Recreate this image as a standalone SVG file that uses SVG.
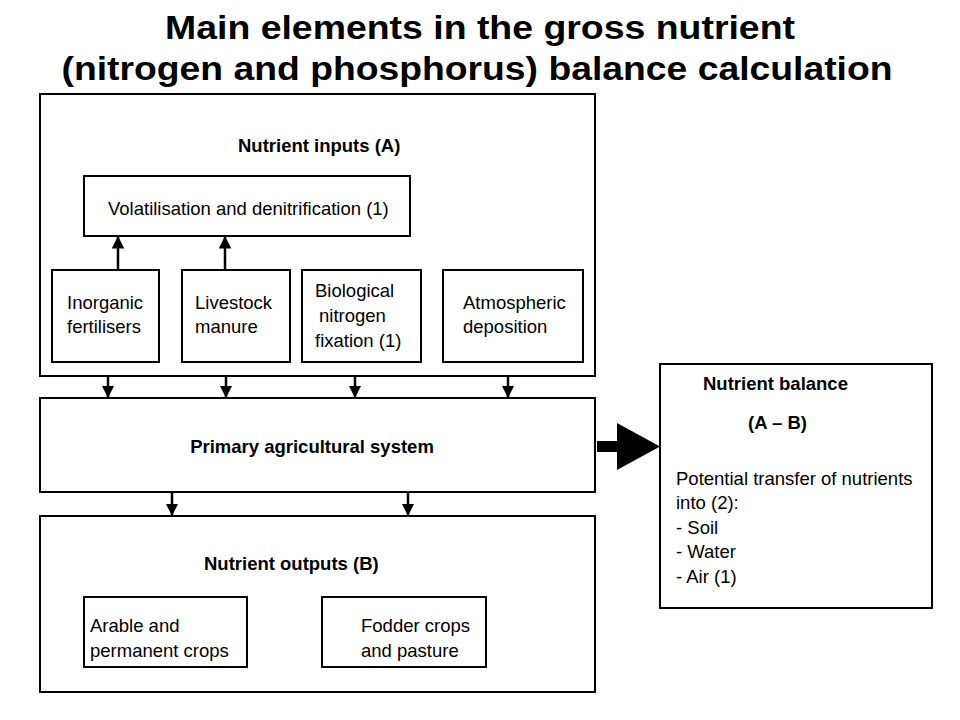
<svg xmlns="http://www.w3.org/2000/svg" width="960" height="720" viewBox="0 0 960 720">
<style>
.box{fill:#fff;stroke:#000;stroke-width:2}
.t{font-family:"Liberation Sans",Arial,sans-serif;font-size:18.5px;fill:#000}
.b{font-weight:bold}
.title{font-family:"Liberation Sans",Arial,sans-serif;font-weight:bold;font-size:33px;fill:#000}
.ln{stroke:#000;stroke-width:2.5;fill:none}
</style>
<defs>
<marker id="ah" viewBox="0 0 12 12" refX="12" refY="6" markerWidth="5" markerHeight="5.2" orient="auto" markerUnits="strokeWidth">
<path d="M0,0 L12,6 L0,12 Z" fill="#000"/>
</marker>
</defs>
<rect width="960" height="720" fill="#fff"/>
<text class="title" x="480" y="39" text-anchor="middle" textLength="630" lengthAdjust="spacingAndGlyphs">Main elements in the gross nutrient</text>
<text class="title" x="477" y="80" text-anchor="middle" textLength="831" lengthAdjust="spacingAndGlyphs">(nitrogen and phosphorus) balance calculation</text>

<g id="inputs">
<rect class="box" x="40" y="94" width="555" height="282"/>
<text class="t b" x="238" y="152">Nutrient inputs (A)</text>
</g>
<g id="volatilisation">
<rect class="box" x="84" y="176" width="326" height="60"/>
<text class="t" x="108" y="215">Volatilisation and denitrification (1)</text>
</g>
<g id="inorganic">
<rect class="box" x="52" y="270" width="107" height="92"/>
<text class="t" x="67" y="309">Inorganic</text>
<text class="t" x="67" y="333">fertilisers</text>
</g>
<g id="livestock">
<rect class="box" x="182" y="270" width="108" height="92"/>
<text class="t" x="195" y="309">Livestock</text>
<text class="t" x="195" y="333">manure</text>
</g>
<g id="biological">
<rect class="box" x="302" y="270" width="119" height="92"/>
<text class="t" x="315" y="297">Biological</text>
<text class="t" x="319" y="322">nitrogen</text>
<text class="t" x="315" y="347">fixation (1)</text>
</g>
<g id="atmospheric">
<rect class="box" x="443" y="270" width="140" height="92"/>
<text class="t" x="463" y="309">Atmospheric</text>
<text class="t" x="463" y="333">deposition</text>
</g>
<g id="primary">
<rect class="box" x="40" y="398" width="555" height="94"/>
<text class="t b" x="312" y="453" text-anchor="middle">Primary agricultural system</text>
</g>
<g id="outputs">
<rect class="box" x="40" y="516" width="555" height="176"/>
<text class="t b" x="204" y="570">Nutrient outputs (B)</text>
</g>
<g id="arable">
<rect class="box" x="84" y="597" width="163" height="70"/>
<text class="t" x="90" y="632">Arable and</text>
<text class="t" x="90" y="657">permanent crops</text>
</g>
<g id="fodder">
<rect class="box" x="322" y="597" width="164" height="70"/>
<text class="t" x="361" y="632">Fodder crops</text>
<text class="t" x="361" y="657">and pasture</text>
</g>
<g id="balance">
<rect class="box" x="660" y="364" width="272" height="244"/>
<text class="t b" x="703" y="390">Nutrient balance</text>
<text class="t b" x="748" y="429">(A – B)</text>
<text class="t" x="676" y="485">Potential transfer of nutrients</text>
<text class="t" x="676" y="509">into (2):</text>
<text class="t" x="676" y="534">- Soil</text>
<text class="t" x="676" y="558">- Water</text>
<text class="t" x="676" y="583">- Air (1)</text>
</g>
<g id="connectors">
<line class="ln" x1="118" y1="270" x2="118" y2="236" marker-end="url(#ah)"/>
<line class="ln" x1="225" y1="270" x2="225" y2="236" marker-end="url(#ah)"/>
<line class="ln" x1="108" y1="376" x2="108" y2="398" marker-end="url(#ah)"/>
<line class="ln" x1="226" y1="376" x2="226" y2="398" marker-end="url(#ah)"/>
<line class="ln" x1="355" y1="376" x2="355" y2="398" marker-end="url(#ah)"/>
<line class="ln" x1="508" y1="376" x2="508" y2="398" marker-end="url(#ah)"/>
<line class="ln" x1="172" y1="492" x2="172" y2="516" marker-end="url(#ah)"/>
<line class="ln" x1="408" y1="492" x2="408" y2="516" marker-end="url(#ah)"/>
<path d="M597,441 L617,441 L617,423 L660,446.5 L617,470 L617,452 L597,452 Z" fill="#000"/>
</g>
</svg>
